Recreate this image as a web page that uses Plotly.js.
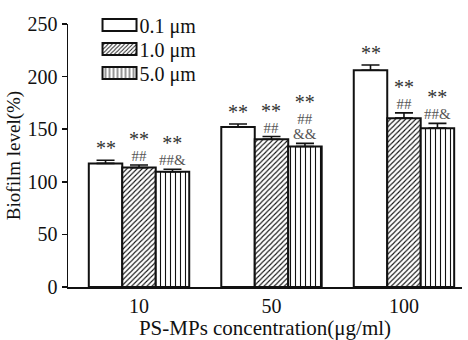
<!DOCTYPE html>
<html><head><meta charset="utf-8">
<script src="https://cdn.plot.ly/plotly-3.0.1.min.js"></script>
<style>body{margin:0;background:#fff}#chart{width:468px;height:340px}</style>
</head><body><div id="chart"></div>
<script>
// ---- data ----
const categories = ['10', '50', '100'];
const seriesNames = ['0.1 μm', '1.0 μm', '5.0 μm'];
const val01 = [117.5, 152, 206];
const err01 = [3, 3, 5];
const val10 = [113.5, 140.5, 160.5];
const err10 = [2.5, 2.5, 5];
const val50 = [109.5, 133.5, 151];
const err50 = [2.5, 3, 4.5];
const sig01 = [['**'], ['**'], ['**']];
const sig10 = [['**', '##'], ['**', '##'], ['**', '##']];
const sig50 = [['**', '##&'], ['**', '##', '&&'], ['**', '##&']];

// ---- styling ----
const FONT = 'Liberation Serif, Times New Roman, serif';
const FS = 20;
const bargap = 0.242;
const seriesVals = [val01, val10, val50];
const seriesErrs = [err01, err10, err50];
const seriesSigs = [sig01, sig10, sig50];
const patterns = [
  {shape: ''},
  {shape: '/', size: 3.6, solidity: 0.3, fgcolor: '#111', bgcolor: '#fff', fillmode: 'replace'},
  {shape: '|', size: 5, solidity: 0.22, fgcolor: '#111', bgcolor: '#fff', fillmode: 'replace'}
];

const xIdx = categories.map((c, i) => i);
const traces = seriesVals.map((vals, j) => ({
  type: 'bar',
  name: seriesNames[j],
  x: xIdx,
  y: vals,
  marker: {color: '#fff', line: {color: '#111', width: 2}, pattern: patterns[j]},
  error_y: {type: 'data', symmetric: false, array: seriesErrs[j],
            arrayminus: seriesErrs[j].map(() => 0), color: '#111', thickness: 1.6, width: 9},
  hoverinfo: 'none'
}));

const w = (1 - bargap) / 3;
const annotations = [];
seriesSigs.forEach((sigs, j) => {
  sigs.forEach((lines, i) => {
    const text = lines.map(t => t === '**'
      ? '<span style="font-size:20px;color:#333">' + t + '</span>'
      : '<span style="font-size:15px;color:#555">' + t + '</span>').join('<br>');
    annotations.push({
      x: i + (j - 1) * w,
      y: seriesVals[j][i] + seriesErrs[j][i],
      xref: 'x', yref: 'y',
      text: text,
      showarrow: false,
      xanchor: 'center', yanchor: 'bottom',
      yshift: -1,
      font: {family: FONT, size: 11.4, color: '#555'}
    });
  });
});

const layout = {
  width: 468, height: 340,
  margin: {l: 68, r: 6, t: 24, b: 53},
  paper_bgcolor: '#fff', plot_bgcolor: '#fff',
  font: {family: FONT, size: FS, color: '#111'},
  barmode: 'group', bargap: bargap, bargroupgap: 0,
  showlegend: true,
  legend: {x: 0.08, y: 1.07, xanchor: 'left', yanchor: 'top',
           bgcolor: 'rgba(0,0,0,0)', font: {family: FONT, size: FS, color: '#111'},
           tracegroupgap: 0},
  xaxis: {
    type: 'linear', range: [-0.536, 2.438],
    tickvals: xIdx, ticktext: categories,
    showline: true, linecolor: '#111', linewidth: 2,
    ticks: '', showgrid: false, zeroline: false,
    tickfont: {family: FONT, size: FS, color: '#111'},
    title: {text: 'PS-MPs concentration(μg/ml)', font: {family: FONT, size: 21, color: '#111'}, standoff: 1}
  },
  yaxis: {
    range: [0, 250], dtick: 50, tick0: 0,
    showline: true, linecolor: '#111', linewidth: 1.5,
    ticks: 'outside', ticklen: 5, tickwidth: 1.5, tickcolor: '#111',
    showgrid: false, zeroline: false,
    tickfont: {family: FONT, size: FS, color: '#111'},
    title: {text: 'Biofilm level(%)', font: {family: FONT, size: 19, color: '#111'}, standoff: 2}
  },
  annotations: annotations
};

Plotly.newPlot('chart', traces, layout, {staticPlot: true, displayModeBar: false}).then(gd => {
  gd.querySelectorAll('.legend .legendpoints path').forEach(p => p.setAttribute('d', 'M17,6H-17V-6H17Z'));
  const items = gd.querySelectorAll('.legend g.traces');
  let y0 = null;
  items.forEach((g, i) => {
    const m = /translate\(\s*([-\d.]+)[ ,]+([-\d.]+)\s*\)/.exec(g.getAttribute('transform') || '');
    if (!m) return;
    if (y0 === null) y0 = parseFloat(m[2]);
    g.setAttribute('transform', 'translate(' + m[1] + ',' + (y0 + 24 * i) + ')');
  });
});
</script>
</body></html>
